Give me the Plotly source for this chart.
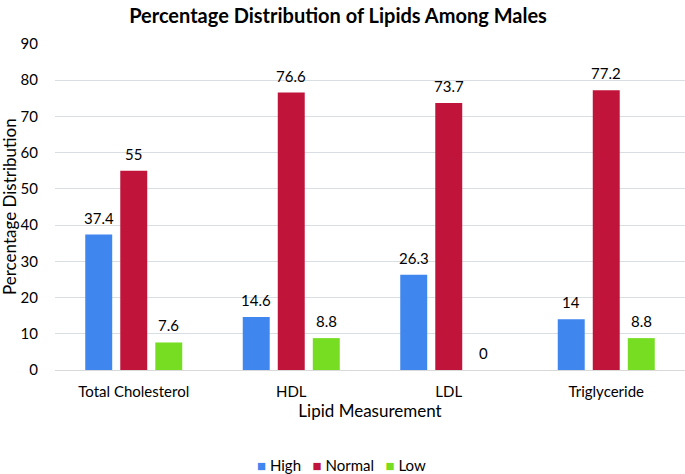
import plotly.graph_objects as go

categories = ["Total Cholesterol", "HDL", "LDL", "Triglyceride"]
high = [37.4, 14.6, 26.3, 14]
normal = [55, 76.6, 73.7, 77.2]
low = [7.6, 8.8, 0, 8.8]
y_ticks = [0, 10, 20, 30, 40, 50, 60, 70, 80, 90]

series = [("High", high, "#3F86EF"), ("Normal", normal, "#C0143A"), ("Low", low, "#77DD22")]

font = "Lato, 'Open Sans', sans-serif"
W, H = 685, 474
ML, MR, MT, MB = 55, 0, 44, 104
PW, PH = W - ML - MR, H - MT - MB
XR = [-0.5, 3.5]
BARGAP, GROUPGAP = 0.333, 0.23

fig = go.Figure()
for name, vals, col in series:
    fig.add_trace(go.Bar(
        name=name, x=categories, y=vals, marker=dict(color=col, line=dict(width=0)),
        showlegend=False, hoverinfo="skip",
    ))

# data labels above bars (offset per series slot within group)
unit_px = PW / (XR[1] - XR[0])
slot_px = unit_px * (1 - BARGAP) / len(series)
for si, (name, vals, col) in enumerate(series):
    off = (si - (len(series) - 1) / 2) * slot_px
    for c, v in zip(categories, vals):
        fig.add_annotation(x=c, y=v, text=str(v), showarrow=False, xshift=off,
                           yanchor="bottom", yshift=6,
                           font=dict(size=15, color="#000000", family=font))

# legend row
legend_html = "   ".join(
    f"<span style='color:{col}'>■</span> {name}" for name, _, col in series
)
fig.add_annotation(xref="paper", yref="paper", x=(341 - ML) / PW, y=-(465 - (H - MB)) / PH,
                   xanchor="center", yanchor="middle", showarrow=False, text=legend_html,
                   font=dict(size=15, color="#000000", family=font))

# y axis title
fig.add_annotation(xref="paper", yref="paper", x=(9 - ML) / PW, y=0.5, textangle=-90,
                   xanchor="center", yanchor="middle", showarrow=False,
                   text="Percentage Distribution", font=dict(size=17, color="#000000", family=font))

fig.update_layout(
    width=W, height=H,
    margin=dict(l=ML, r=MR, t=MT, b=MB, autoexpand=False),
    paper_bgcolor="white", plot_bgcolor="white",
    font=dict(family=font, size=15, color="#000000"),
    title=dict(text="<b>Percentage Distribution of Lipids Among Males</b>", x=(338 - ML) / PW,
               xref="paper", xanchor="center",
               y=0.967, yanchor="middle", font=dict(size=20, family=font, color="#000000")),
    barmode="group", bargap=BARGAP, bargroupgap=GROUPGAP,
    showlegend=False,
)
fig.update_xaxes(
    range=XR, showgrid=False, showline=True, linecolor="#D9D9D9", linewidth=1,
    ticks="", tickfont=dict(size=15), ticklabelstandoff=8,
    title=dict(text="Lipid Measurement", font=dict(size=17), standoff=6),
)
fig.update_yaxes(
    range=[0, 90], tickvals=y_ticks, showgrid=True, gridcolor="#D9DEE3", gridwidth=1,
    showline=False, zeroline=False, ticks="", tickfont=dict(size=15), ticklabelstandoff=16,
)
fig.write_html("out.html", config={"displayModeBar": False},
               post_script="document.body.style.margin='0';")
